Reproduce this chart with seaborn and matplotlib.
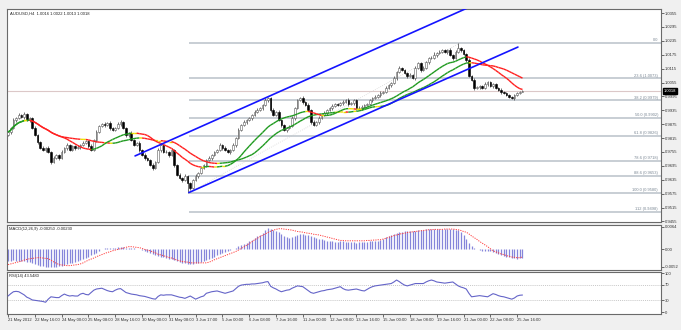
import numpy as np
import pandas as pd
import matplotlib
matplotlib.use("Agg")
import matplotlib.pyplot as plt
import matplotlib.transforms as mtransforms
from matplotlib.collections import LineCollection
import seaborn as sns

sns.set_style("white")
plt.rcParams["font.family"] = ["Liberation Sans", "DejaVu Sans"]

# ---------------- data ----------------
symbol = "AUDUSD,H4"
last_ohlc = [1.0016, 1.0022, 1.0013, 1.0018]

first_open = 0.9830
closes = [
    0.9841, 0.9858, 0.9893, 0.9902, 0.9915, 0.9906, 0.9919, 0.9893, 0.9902, 0.9858,
    0.9828, 0.9798, 0.9772, 0.9764, 0.9772, 0.9755, 0.9712, 0.9729, 0.9742, 0.9729,
    0.9755, 0.9772, 0.9785, 0.9764, 0.9781, 0.9772, 0.9777, 0.9785, 0.9794, 0.9802,
    0.9781, 0.9764, 0.9807, 0.9841, 0.9867, 0.9876, 0.9871, 0.9880, 0.9858, 0.9850,
    0.9858, 0.9876, 0.9885, 0.9858, 0.9828, 0.9837, 0.9807, 0.9785, 0.9794, 0.9764,
    0.9742, 0.9729, 0.9720, 0.9699, 0.9686, 0.9712, 0.9764, 0.9785, 0.9755, 0.9755,
    0.9742, 0.9764, 0.9699, 0.9656, 0.9643, 0.9634, 0.9651, 0.9621, 0.9600, 0.9634,
    0.9651, 0.9664, 0.9686, 0.9699, 0.9720, 0.9729, 0.9742, 0.9755, 0.9764, 0.9785,
    0.9772, 0.9764, 0.9755, 0.9764, 0.9785, 0.9815, 0.9850, 0.9871, 0.9885, 0.9893,
    0.9902, 0.9915, 0.9928, 0.9936, 0.9945, 0.9958, 0.9979, 0.9988, 0.9936, 0.9915,
    0.9928, 0.9893, 0.9871, 0.9850, 0.9858, 0.9867, 0.9902, 0.9945, 0.9979, 0.9988,
    0.9971, 0.9958, 0.9936, 0.9885, 0.9871, 0.9885, 0.9902, 0.9915, 0.9923, 0.9936,
    0.9945, 0.9953, 0.9962, 0.9958, 0.9966, 0.9971, 0.9979, 0.9962, 0.9966, 0.9979,
    0.9945, 0.9945, 0.9949, 0.9958, 0.9962, 0.9979, 0.9988, 0.9993, 1.0001, 1.0010,
    1.0014, 1.0031, 1.0044, 1.0053, 1.0074, 1.0100, 1.0118, 1.0109, 1.0096, 1.0083,
    1.0087, 1.0074, 1.0118, 1.0139, 1.0109, 1.0118, 1.0143, 1.0161, 1.0161, 1.0174,
    1.0182, 1.0187, 1.0195, 1.0187, 1.0195, 1.0174, 1.0161, 1.0187, 1.0204, 1.0195,
    1.0178, 1.0152, 1.0083, 1.0066, 1.0031, 1.0036, 1.0040, 1.0031, 1.0048, 1.0057,
    1.0040, 1.0048, 1.0031, 1.0023, 1.0014, 1.0010, 1.0001, 0.9993, 0.9988, 1.0001,
    1.0010, 1.0016, 1.0018,
]
# shadow lengths in pips above / below the candle body
wick_up_pips = [
    6, 4, 8, 5, 7, 3, 9, 6, 4, 5, 8, 3, 6, 10, 4, 7, 5, 9, 3, 6,
    7, 4, 8, 5, 6, 3, 9, 4, 7, 5, 6, 8, 4, 10, 5, 3, 7, 6, 9, 4,
    5, 8, 6, 3, 7, 4, 9, 5, 6, 8, 3, 7, 5, 4, 10, 6, 8, 3, 5, 7,
    4, 9, 6, 5, 8, 3, 7, 4, 6, 5, 9, 4, 7, 6, 3, 8, 5, 6, 4, 7,
    5, 8, 3, 6, 9, 4, 7, 5, 8, 3, 6, 4, 7, 9, 5, 6, 10, 4, 3, 7,
    5, 8, 6, 4, 7, 3, 9, 5, 6, 4, 8, 5, 7, 3, 6, 4, 9, 5, 7, 6,
    4, 8, 3, 6, 5, 7, 4, 9, 6, 3, 5, 7, 8, 4, 6, 3, 5, 9, 4, 7,
    6, 10, 5, 4, 7, 3, 8, 6, 5, 4, 9, 6, 7, 5, 3, 8, 4, 6, 7, 12,
    5, 8, 4, 6, 3, 7, 5, 9, 22, 4, 6, 5, 8, 4, 7, 3, 6, 5, 9, 4,
    6, 7, 5, 4, 8, 6, 4, 5, 4, 6, 3, 4, 4,
]
wick_dn_pips = [
    5, 7, 4, 9, 6, 3, 8, 5, 7, 4, 6, 9, 5, 4, 8, 6, 10, 5, 3, 7,
    4, 6, 8, 5, 3, 7, 5, 9, 4, 6, 7, 5, 3, 8, 6, 4, 9, 5, 7, 3,
    6, 4, 8, 5, 7, 9, 4, 6, 3, 8, 5, 7, 4, 6, 9, 5, 3, 8, 6, 4,
    7, 5, 9, 4, 6, 8, 5, 41, 7, 4, 6, 8, 3, 5, 7, 4, 9, 6, 5, 3,
    8, 4, 6, 7, 5, 9, 3, 6, 4, 8, 5, 7, 4, 6, 3, 8, 5, 7, 9, 4,
    6, 3, 8, 5, 7, 4, 6, 9, 5, 3, 7, 4, 6, 8, 5, 3, 9, 4, 6, 7,
    5, 8, 4, 6, 3, 7, 5, 8, 4, 6, 9, 5, 7, 3, 6, 4, 8, 5, 6, 7,
    4, 6, 5, 8, 3, 7, 4, 6, 5, 8, 6, 4, 7, 5, 9, 3, 6, 8, 4, 5,
    7, 5, 3, 6, 8, 4, 7, 5, 6, 9, 4, 8, 6, 5, 7, 3, 9, 6, 5, 8,
    4, 7, 5, 6, 9, 4, 6, 3, 5, 7, 4, 5, 3,
]
# MACD(12,26,9) main and signal, in units of 1e-4
macd_main = [
    -35, -34, -33, -34, -35, -35, -36, -37, -38, -41, -44, -47, -48, -50, -51, -52, -53, -52, -51, -50,
    -48, -45, -43, -41, -39, -38, -35, -32, -29, -26, -22, -18, -15, -10, -5, -1, 2, 3, 3, 4,
    4, 5, 5, 5, 4, 4, 3, 3, 1, -1, -4, -6, -9, -12, -15, -17, -20, -22, -24, -26,
    -28, -30, -33, -36, -38, -39, -40, -42, -42, -42, -41, -40, -38, -36, -33, -30, -26, -22, -18, -15,
    -12, -9, -6, -3, 0, 4, 8, 11, 14, 18, 22, 27, 32, 37, 42, 48, 56, 60, 59, 56,
    53, 49, 44, 38, 35, 32, 34, 38, 42, 45, 44, 42, 40, 37, 34, 32, 30, 28, 26, 24,
    22, 22, 21, 21, 22, 22, 21, 21, 20, 20, 19, 20, 20, 21, 21, 22, 22, 23, 24, 26,
    30, 34, 38, 41, 45, 48, 50, 50, 51, 51, 52, 52, 53, 54, 55, 56, 57, 58, 59, 59,
    59, 58, 58, 58, 58, 58, 57, 56, 54, 50, 40, 30, 18, 8, 4, 0, -3, -5, -6, -7,
    -7, -9, -11, -14, -17, -19, -22, -24, -26, -27, -28, -27, -25,
]
macd_signal = [
    -45, -43, -41, -39, -37, -35, -32, -30, -28, -27, -26, -25, -25, -26, -27, -28, -32, -37, -41, -45,
    -46, -47, -48, -48, -47, -46, -45, -43, -40, -36, -32, -29, -26, -22, -19, -16, -13, -10, -8, -5,
    -3, -1, 1, 3, 5, 7, 7, 6, 5, 4, 2, -1, -3, -5, -8, -11, -15, -17, -19, -22,
    -24, -26, -29, -32, -34, -36, -37, -38, -40, -40, -40, -40, -40, -40, -40, -38, -35, -31, -28, -25,
    -22, -19, -16, -13, -10, -7, -3, 2, 6, 11, 16, 21, 27, 31, 36, 40, 44, 48, 52, 55,
    57, 59, 59, 58, 57, 56, 55, 53, 51, 50, 49, 47, 46, 45, 43, 42, 41, 39, 37, 35,
    33, 31, 29, 27, 25, 25, 24, 24, 24, 24, 24, 24, 24, 24, 25, 25, 26, 26, 27, 27,
    29, 31, 34, 36, 39, 41, 43, 45, 46, 48, 49, 50, 51, 52, 53, 54, 55, 56, 56, 57,
    57, 57, 57, 58, 58, 58, 58, 57, 56, 54, 51, 49, 44, 38, 33, 28, 22, 17, 12, 7,
    1, -5, -8, -11, -14, -16, -19, -21, -23, -24, -25, -25, -23,
]
# RSI(14)
rsi_values = [
    41, 47, 52, 53, 52, 48, 44, 38, 35, 31, 30, 29, 28, 27, 25, 33, 39, 38, 37, 37,
    42, 46, 43, 41, 42, 41, 41, 46, 48, 45, 44, 50, 56, 59, 60, 61, 58, 55, 53, 52,
    56, 59, 60, 55, 50, 48, 46, 45, 44, 42, 41, 40, 38, 36, 34, 33, 40, 44, 43, 44,
    44, 44, 42, 40, 38, 37, 35, 38, 41, 37, 33, 36, 39, 41, 48, 50, 52, 53, 54, 52,
    50, 48, 50, 52, 54, 60, 66, 69, 70, 71, 71, 72, 72, 73, 74, 75, 77, 78, 66, 62,
    59, 55, 52, 54, 56, 57, 61, 64, 67, 66, 65, 60, 55, 50, 48, 50, 52, 54, 55, 57,
    58, 59, 61, 63, 65, 60, 57, 56, 57, 58, 59, 57, 55, 54, 58, 62, 65, 67, 68, 69,
    70, 71, 72, 73, 77, 82, 78, 73, 69, 67, 69, 71, 73, 73, 73, 73, 77, 80, 82, 80,
    77, 76, 75, 74, 75, 76, 77, 72, 67, 64, 62, 59, 48, 39, 40, 41, 42, 41, 40, 39,
    43, 47, 45, 42, 40, 39, 37, 35, 33, 36, 41, 43, 43.548,
]
macd_label = "MACD(12,26,9) -0.00250 -0.00230"
rsi_label = "RSI(14) 43.5480"

time_labels = [
    "21 May 2012", "22 May 16:00", "24 May 00:00", "25 May 08:00", "28 May 16:00",
    "30 May 00:00", "31 May 08:00", "3 Jun 17:00", "5 Jun 00:00", "6 Jun 08:00",
    "7 Jun 16:00", "11 Jun 00:00", "12 Jun 08:00", "13 Jun 16:00", "15 Jun 00:00",
    "18 Jun 08:00", "19 Jun 16:00", "21 Jun 00:00", "22 Jun 08:00", "25 Jun 16:00",
]
price_ticks = [1.0355, 1.0295, 1.0235, 1.0175, 1.0115, 1.0055, 0.9995, 0.9935,
               0.9875, 0.9815, 0.9755, 0.9695, 0.9635, 0.9575, 0.9515, 0.9455]
macd_ticks = [0.0064, 0.0, -0.0052]
macd_tick_labels = ["0.0064", "0.00", "-0.0052"]
rsi_ticks = [100, 70, 30, 0]
rsi_levels = [70, 30]

# Fibonacci retracement drawn from the swing low to the swing high
fib_levels = ["0.0", "23.6", "38.2", "50.0", "61.8", "78.6", "88.6", "100.0", "112"]
fib_prices = [1.0226, 1.0073, 0.9979, 0.9902, 0.9826, 0.9718, 0.9653, 0.9580, 0.9498]
fib_anchor_bars = [67.5, 168.7]
fib_anchor_prices = [0.9580, 1.0226]

# rising channel
channel_upper_bars = [47.4, 175.0]
channel_upper_prices = [0.9738, 1.0395]
channel_lower_bars = [67.5, 190.3]
channel_lower_prices = [0.9580, 1.0208]

ma_fast_period = 20
ma_slow_period = 30

# ---------------- frame ----------------
bars = np.arange(len(closes))
df = pd.DataFrame({"bar": bars, "close": closes})
df["open"] = [first_open] + closes[:-1]
df["high"] = df[["open", "close"]].max(axis=1) + np.array(wick_up_pips) * 1e-4
df["low"] = df[["open", "close"]].min(axis=1) - np.array(wick_dn_pips) * 1e-4
df["macd"] = np.array(macd_main) * 1e-4
df["signal"] = np.array(macd_signal) * 1e-4
df["rsi"] = rsi_values
df["ma_fast"] = df["close"].rolling(ma_fast_period, min_periods=1).mean()
df["ma_slow"] = df["close"].rolling(ma_slow_period, min_periods=1).mean()

W, H = 681, 330
fig = plt.figure(figsize=(W / 100, H / 100), dpi=100, facecolor="#f0f0f0")


def panel(top, bottom, left=7, right=661):
    return fig.add_axes([left / W, 1 - bottom / H, (right - left) / W, (bottom - top) / H])


ax = panel(9, 222)
ax_m = panel(225, 270)
ax_r = panel(272, 314)

xlim = (-0.4, 243.7)
tick_fs = 3.0
for a in (ax, ax_m, ax_r):
    a.set_facecolor("white")
    a.set_xlim(*xlim)
    a.yaxis.tick_right()
    a.tick_params(axis="y", labelsize=tick_fs, length=1.8, width=0.5, pad=1.0,
                  colors="#303030", right=True, left=False)
    a.tick_params(axis="x", bottom=False, labelbottom=False)
    for s in a.spines.values():
        s.set_color("#6a6a6a")
        s.set_linewidth(0.8)
    a.grid(False)

# ---------------- price panel ----------------
ax.set_ylim(0.94528, 1.03723)
ax.set_yticks(price_ticks)
ax.set_yticklabels([f"{t:.4f}" for t in price_ticks])

# current bid line
ax.axhline(last_ohlc[3], color="#dcc8c8", lw=0.8, zorder=1)

# fibonacci levels
fib_x0 = fib_anchor_bars[0]
for lvl, p in zip(fib_levels, fib_prices):
    ax.plot([fib_x0, xlim[1]], [p, p], color="#b9c1c9", lw=1.1, zorder=1, solid_capstyle="butt")
    txt = lvl if lvl == "0.0" else f"{lvl} ({p:.4f})"
    ax.text(242.6, p + 0.0002, txt, ha="right", va="bottom", fontsize=2.9, color="#7a8794")
ax.plot(fib_anchor_bars, fib_anchor_prices, color="#c8c8c8", lw=0.5, ls=(0, (1, 2)), zorder=1)

# candles
bull = df["close"] >= df["open"]
ax.vlines(df["bar"], df["low"], df["high"], color="#4a4a4a", lw=0.55, zorder=3)
body_h = (df["close"] - df["open"]).abs().clip(lower=0.00006)
body_b = df[["open", "close"]].min(axis=1)
ax.bar(df["bar"][bull], body_h[bull], bottom=body_b[bull], width=0.62,
       color="white", edgecolor="#5a5a5a", lw=0.4, zorder=4)
ax.bar(df["bar"][~bull], body_h[~bull], bottom=body_b[~bull], width=0.62,
       color="black", edgecolor="black", lw=0.4, zorder=4)


def slope_colored(axis, x, y, thr=0.00008, lw=1.0):
    x = np.asarray(x, float)
    y = np.asarray(y, float)
    pts = np.column_stack([x, y]).reshape(-1, 1, 2)
    segs = np.concatenate([pts[:-1], pts[1:]], axis=1)
    d = np.diff(y)
    cols = np.where(d > thr, "#1f9a1f", np.where(d < -thr, "#ff1f1f", "#eee000"))
    axis.add_collection(LineCollection(segs, colors=cols, linewidths=lw, zorder=5))


slope_colored(ax, df["bar"], df["ma_slow"])
slope_colored(ax, df["bar"], df["ma_fast"])

# channel lines
ax.plot(channel_upper_bars, channel_upper_prices, color="#1414ff", lw=1.2, zorder=6)
ax.plot(channel_lower_bars, channel_lower_prices, color="#1414ff", lw=1.2, zorder=6)

ax.text(0.004, 0.988, f"{symbol}  " + " ".join(f"{v:.4f}" for v in last_ohlc),
        transform=ax.transAxes, ha="left", va="top", fontsize=tick_fs, color="#202020")

bid_tr = mtransforms.blended_transform_factory(ax.transAxes, ax.transData)
ax.text(1.004, last_ohlc[3], f"{last_ohlc[3]:.4f}", transform=bid_tr, ha="left", va="center",
        fontsize=tick_fs, color="white", zorder=10, clip_on=False,
        bbox=dict(boxstyle="square,pad=0.25", fc="black", ec="black"))

# ---------------- MACD panel ----------------
ax_m.set_ylim(-0.00607, 0.00698)
ax_m.set_yticks(macd_ticks)
ax_m.set_yticklabels(macd_tick_labels)
ax_m.vlines(df["bar"], 0, df["macd"], color="#8585da", lw=0.9, zorder=2)
ax_m.plot(df["bar"], df["signal"], color="#ff3b3b", lw=0.7, ls=(0, (1.2, 1.2)), zorder=3)
ax_m.text(0.003, 0.95, macd_label, transform=ax_m.transAxes, ha="left", va="top",
          fontsize=tick_fs, color="#202020")

# ---------------- RSI panel ----------------
ax_r.set_ylim(-5.1, 102.6)
ax_r.set_yticks(rsi_ticks)
ax_r.set_yticklabels([str(t) for t in rsi_ticks])
for lv in rsi_levels:
    ax_r.axhline(lv, color="#b4b4b4", lw=0.5, ls=(0, (1.5, 1.5)), zorder=1)
sns.lineplot(data=df, x="bar", y="rsi", ax=ax_r, color="#6464c8", lw=0.8, zorder=3)
ax_r.set_xlabel("")
ax_r.set_ylabel("")
ax_r.set_xlim(*xlim)
ax_r.text(0.003, 0.95, rsi_label, transform=ax_r.transAxes, ha="left", va="top",
          fontsize=tick_fs, color="#202020")

tick_bars = list(range(0, 10 * len(time_labels), 10))
ax_r.set_xticks(tick_bars)
ax_r.set_xticklabels(time_labels, ha="left")
ax_r.tick_params(axis="x", bottom=True, labelbottom=True, labelsize=tick_fs, length=2,
                 width=0.5, pad=1.0, colors="#303030")

fig.savefig("out.png", dpi=100, facecolor=fig.get_facecolor())
